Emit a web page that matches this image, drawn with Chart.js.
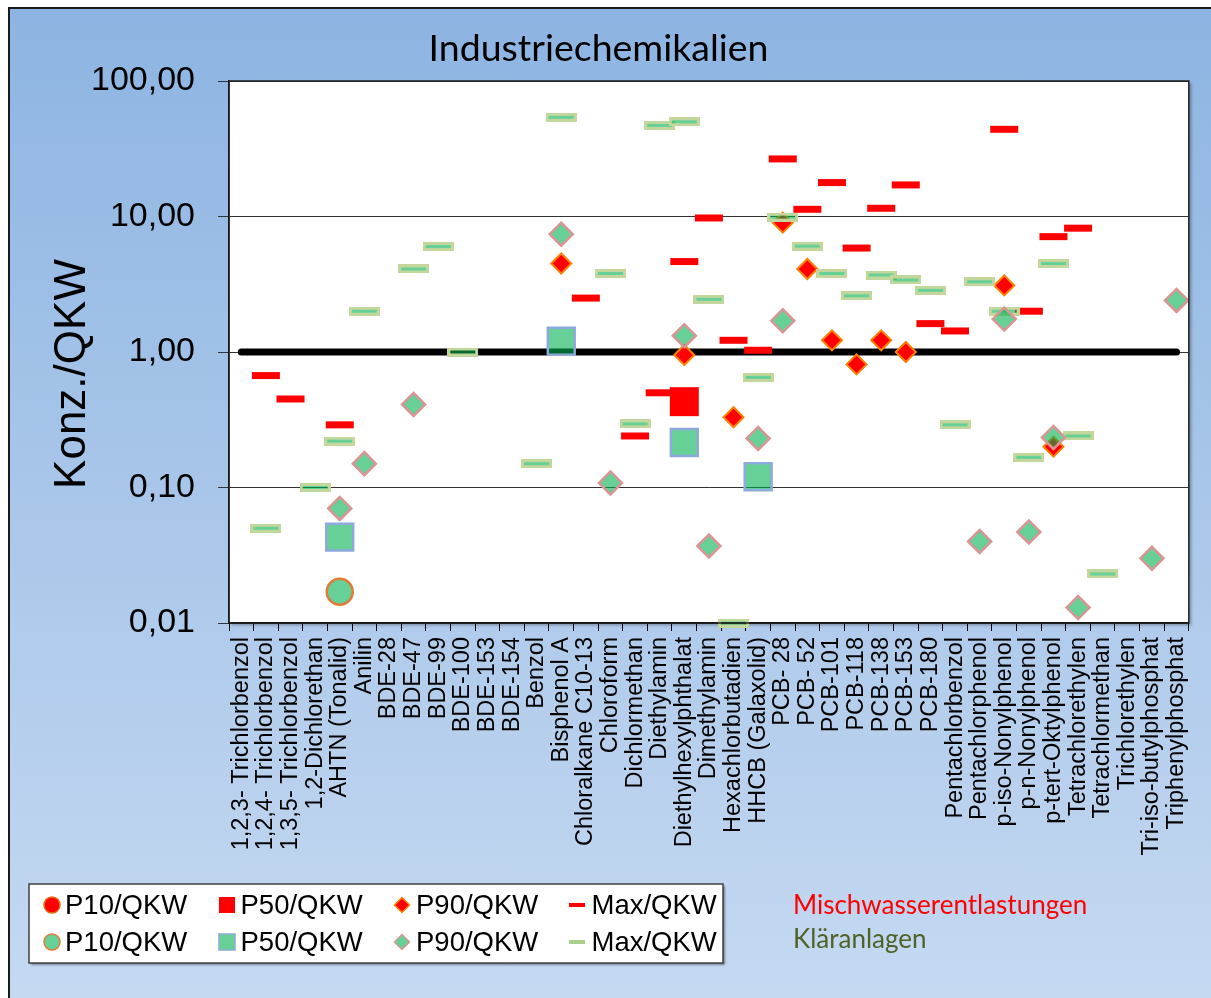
<!DOCTYPE html>
<html>
<head>
<meta charset="utf-8">
<script src="https://cdn.jsdelivr.net/npm/chart.js@4.4.1/dist/chart.umd.min.js"></script>
<style>
  html, body { margin: 0; padding: 0; background: #fff; }
  #frame {
    position: absolute; left: 8px; top: 7px; width: 1203px; height: 991px;
    box-sizing: border-box;
    border-left: 2px solid #1a1a1a; border-top: 2px solid #1a1a1a;
    background: linear-gradient(to bottom, #8DB4E2 0%, #C5D9F1 100%);
  }
  #wrap { position: absolute; left: 0; top: 0; width: 1211px; height: 998px; }
</style>
</head>
<body>
<div id="frame"></div>
<div id="wrap"><canvas id="myChart"></canvas></div>
<script>
var categories = [
  "1,2,3- Trichlorbenzol", "1,2,4- Trichlorbenzol", "1,3,5- Trichlorbenzol",
  "1,2-Dichlorethan", "AHTN (Tonalid)", "Anilin", "BDE-28", "BDE-47", "BDE-99",
  "BDE-100", "BDE-153", "BDE-154", "Benzol", "Bisphenol A", "Chloralkane C10-13",
  "Chloroform", "Dichlormethan", "Diethylamin", "Diethylhexylphthalat",
  "Dimethylamin", "Hexachlorbutadien", "HHCB (Galaxolid)", "PCB- 28", "PCB- 52",
  "PCB-101", "PCB-118", "PCB-138", "PCB-153", "PCB-180", "Pentachlorbenzol",
  "Pentachlorphenol", "p-iso-Nonylphenol", "p-n-Nonylphenol", "p-tert-Oktylphenol",
  "Tetrachlorethylen", "Tetrachlormethan", "Trichlorethylen",
  "Tri-iso-butylphosphat", "Triphenylphosphat"
];

var yTicks = [0.01, 0.1, 1, 10, 100];

// Mischwasserentlastungen (concentration / QKW)
var mwP10 = [
  null, null, null, null, null, null, null, null, null, null,
  null, null, null, null, null, null, null, null, null, null,
  null, null, null, null, null, null, null, null, null, null,
  null, null, null, null, null, null, null, null, null
];
var mwP50 = [
  null, null, null, null, null, null, null, null, null, null,
  null, null, null, null, null, null, null, null, 0.43, null,
  null, null, null, null, null, null, null, null, null, null,
  null, null, null, null, null, null, null, null, null
];
var mwP90 = [
  null, null, null, null, null, null, null, null, null, null,
  null, null, null, 4.5, null, null, null, null, 0.95, null,
  0.33, null, 9.0, 4.1, 1.22, 0.81, 1.22, 1.0, null, null,
  null, 3.1, null, 0.20, null, null, null, null, null
];
var mwMax = [
  null, 0.67, 0.45, null, 0.29, null, null, null, null, null,
  null, null, null, null, 2.5, null, 0.24, 0.5, 4.65, 9.75,
  1.22, 1.03, 26.6, 11.3, 17.8, 5.85, 11.5, 17.1, 1.62, 1.43,
  null, 44, 2.0, 7.1, 8.2, null, null, null, null
];

// Kläranlagen (concentration / QKW)
var kaP10 = [
  null, null, null, null, 0.017, null, null, null, null, null,
  null, null, null, null, null, null, null, null, null, null,
  null, null, null, null, null, null, null, null, null, null,
  null, null, null, null, null, null, null, null, null
];
var kaP50 = [
  null, null, null, null, 0.043, null, null, null, null, null,
  null, null, null, 1.2, null, null, null, null, 0.215, null,
  null, 0.12, null, null, null, null, null, null, null, null,
  null, null, null, null, null, null, null, null, null
];
var kaP90 = [
  null, null, null, null, 0.07, 0.15, null, 0.41, null, null,
  null, null, null, 7.4, null, 0.108, null, null, 1.32, 0.037,
  null, 0.23, 1.7, null, null, null, null, null, null, null,
  0.040, 1.75, 0.047, 0.234, 0.013, null, null, 0.030, 2.4
];
var kaMax = [
  null, 0.05, null, 0.10, 0.22, 2.0, null, 4.1, 6.0, 1.0,
  null, null, 0.15, 54, null, 3.8, 0.295, 47, 50, 2.45,
  0.01, 0.65, 9.9, 6.05, 3.8, 2.6, 3.7, 3.4, 2.85, 0.29,
  3.3, 2.0, 0.167, 4.5, 0.24, 0.023, null, null, null
];

// QKW reference (ratio = 1)
var refLine = categories.map(function () { return 1; });

var red = '#FF0000';
var greenFill = 'rgba(0, 176, 80, 0.6)';
var paleGreen = '#C3D69B';

var ctx = document.getElementById('myChart');

// dash marker for the Kläranlagen maximum: pale frame around a translucent green core
function dashImage(w, h) {
  var c = document.createElement('canvas');
  c.width = w;
  c.height = h;
  var g = c.getContext('2d');
  g.fillStyle = paleGreen;
  g.fillRect(0, 0, w, h);
  g.clearRect(3, 3, w - 6, h - 6);
  g.fillStyle = greenFill;
  g.fillRect(3, 3, w - 6, h - 6);
  return c;
}

function markers(label, values, row, style, radius, fill, border, borderWidth, order) {
  return {
    label: label,
    data: values,
    row: row,
    showLine: false,
    clip: false,
    order: order,
    pointStyle: style,
    pointRadius: radius,
    pointBackgroundColor: fill,
    pointBorderColor: border,
    pointBorderWidth: borderWidth
  };
}

var datasets = [
  markers('P10/QKW', mwP10, 0, 'circle', 13, red, '#E46C0A', 2, 2),
  markers('P50/QKW', mwP50, 0, 'rect', 20.5, red, red, 0, 2),
  markers('P90/QKW', mwP90, 0, 'rectRot', 10, red, '#FF8000', 2, 2),
  markers('Max/QKW', mwMax, 0, 'line', 14, red, red, 7, 2),
  markers('P10/QKW', kaP10, 1, 'circle', 13, greenFill, '#E07B39', 2.5, 1),
  markers('P50/QKW', kaP50, 1, 'rect', 19, greenFill, '#8EA9DB', 2.5, 1),
  markers('P90/QKW', kaP90, 1, 'rectRot', 11.5, greenFill, '#D99594', 2.5, 1),
  markers('Max/QKW', kaMax, 1, dashImage(31, 9), 15, paleGreen, paleGreen, 0, 1),
  {
    label: 'QKW',
    data: refLine,
    order: 3,
    borderColor: '#000',
    borderWidth: 7,
    borderCapStyle: 'round',
    pointRadius: 0,
    fill: false
  }
];

// white plot area with a soft shadow
var plotArea = {
  id: 'plotArea',
  beforeDraw: function (chart) {
    var c = chart.ctx, a = chart.chartArea;
    c.save();
    c.shadowColor = 'rgba(0,0,0,0.35)';
    c.shadowOffsetX = 2;
    c.shadowOffsetY = 2;
    c.shadowBlur = 3;
    c.fillStyle = '#fff';
    c.fillRect(a.left, a.top, a.right - a.left, a.bottom - a.top);
    c.restore();
  },
  afterDraw: function (chart) {
    var c = chart.ctx, a = chart.chartArea;
    c.save();
    c.strokeStyle = '#222';
    c.lineWidth = 1.5;
    c.strokeRect(a.left, a.top, a.right - a.left, a.bottom - a.top);
    c.restore();
  }
};

// rotated y-axis title
var axisTitle = {
  id: 'axisTitle',
  afterDraw: function (chart) {
    var c = chart.ctx;
    c.save();
    c.translate(73, 374);
    c.rotate(-Math.PI / 2);
    c.font = "44px 'Liberation Sans', Arial, sans-serif";
    c.fillStyle = '#000';
    c.textAlign = 'center';
    c.textBaseline = 'middle';
    c.fillText('Konz./QKW', 0, 0);
    c.restore();
  }
};

function legendMarker(c, ds, x, y) {
  var st = ds.pointStyle;
  c.fillStyle = ds.pointBackgroundColor;
  c.strokeStyle = ds.pointBorderColor;
  c.lineWidth = 1.5;
  c.beginPath();
  if (st === 'circle') {
    c.arc(x, y, 8, 0, Math.PI * 2);
    c.fill();
    c.stroke();
  } else if (st === 'rect') {
    c.rect(x - 8, y - 8, 16, 16);
    c.fill();
    if (ds.pointBorderWidth > 0) c.stroke();
  } else if (st === 'rectRot') {
    c.moveTo(x - 7.5, y);
    c.lineTo(x, y - 7.5);
    c.lineTo(x + 7.5, y);
    c.lineTo(x, y + 7.5);
    c.closePath();
    c.fill();
    c.stroke();
  } else if (st === 'line') {
    c.fillRect(x - 8, y - 2, 16, 4);
  } else {
    c.fillStyle = '#A9D18E';
    c.fillRect(x - 8, y - 2, 16, 4);
  }
}

// two-row legend box plus the group captions
var legendBox = {
  id: 'legendBox',
  afterDraw: function (chart) {
    var c = chart.ctx;
    c.save();
    c.shadowColor = 'rgba(0,0,0,0.4)';
    c.shadowOffsetX = 2;
    c.shadowOffsetY = 2;
    c.shadowBlur = 2;
    c.fillStyle = '#fff';
    c.fillRect(29, 884, 694, 79);
    c.restore();

    c.save();
    c.strokeStyle = '#404040';
    c.lineWidth = 1.5;
    c.strokeRect(29, 884, 694, 79);

    var cols = [0, 0];
    chart.data.datasets.forEach(function (ds) {
      if (ds.row === undefined) return;
      var col = cols[ds.row]++;
      var y = 905 + ds.row * 37;
      legendMarker(c, ds, 52 + col * 175, y);
      c.font = "27.5px 'Liberation Sans', Arial, sans-serif";
      c.fillStyle = '#000';
      c.textAlign = 'left';
      c.textBaseline = 'middle';
      c.fillText(ds.label, 65 + col * 175.5, y + 1);
    });

    c.font = "26px Lato, 'Noto Sans', sans-serif";
    c.fillStyle = red;
    c.fillText('Mischwasserentlastungen', 793, 906);
    c.fillStyle = '#4F6228';
    c.fillText('Kläranlagen', 793, 940);
    c.restore();
  }
};

var myChart = new Chart(ctx, {
  type: 'line',
  data: {
    labels: categories,
    datasets: datasets
  },
  plugins: [plotArea, axisTitle, legendBox],
  options: {
    responsive: true,
    maintainAspectRatio: false,
    animation: false,
    events: [],
    layout: { padding: { left: 0, right: 14, top: 0, bottom: 0 } },
    plugins: {
      legend: { display: false },
      tooltip: { enabled: false },
      title: {
        display: true,
        text: 'Industriechemikalien',
        color: '#000',
        font: { family: "Lato, 'Noto Sans', sans-serif", size: 37.5, weight: 'normal', lineHeight: 1.2 },
        padding: { top: 26, bottom: 10 }
      }
    },
    scales: {
      x: {
        type: 'category',
        offset: true,
        afterFit: function (scale) { scale.height = 375; },
        grid: {
          offset: true,
          drawOnChartArea: false,
          tickLength: 8,
          color: '#000'
        },
        border: { color: '#000', width: 1.5 },
        ticks: {
          autoSkip: false,
          minRotation: 90,
          maxRotation: 90,
          padding: 6,
          color: '#000',
          font: { family: "'Liberation Sans', Arial, sans-serif", size: 23.5 }
        }
      },
      y: {
        type: 'logarithmic',
        min: 0.01,
        max: 100,
        afterFit: function (scale) { scale.width = 229; },
        afterBuildTicks: function (scale) {
          scale.ticks = yTicks.map(function (v) { return { value: v }; });
        },
        grid: {
          color: '#333',
          lineWidth: 1,
          tickLength: 11
        },
        border: { color: '#000', width: 1.5 },
        ticks: {
          padding: 23,
          color: '#000',
          font: { family: "'Liberation Sans', Arial, sans-serif", size: 34 },
          callback: function (v) { return Number(v).toFixed(2).replace('.', ','); }
        }
      }
    }
  }
});
</script>
</body>
</html>
